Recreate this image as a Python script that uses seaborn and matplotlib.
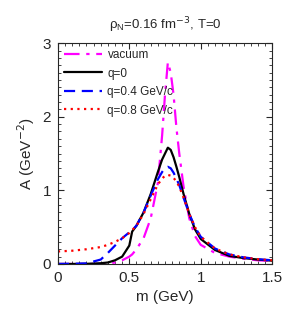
import numpy as np
import matplotlib
matplotlib.use("Agg")
import matplotlib.pyplot as plt
import pandas as pd
import seaborn as sns
from matplotlib.ticker import MultipleLocator, FuncFormatter

# --- data ---
mass = [0.0, 0.1, 0.2, 0.3, 0.35, 0.4, 0.45, 0.5, 0.52, 0.55, 0.6, 0.65, 0.7,
        0.73, 0.75, 0.77, 0.79, 0.81, 0.83, 0.85, 0.88, 0.92, 0.96, 1.0,
        1.1, 1.2, 1.3, 1.4, 1.5]
a_vacuum = [0.0, 0.0, 0.0, 0.0, 0.005, 0.02, 0.05, 0.1, 0.13, 0.2, 0.35, 0.62, 1.1,
            1.75, 2.3, 2.74, 2.6, 2.3, 1.85, 1.5, 1.05, 0.62, 0.38, 0.26,
            0.15, 0.1, 0.07, 0.05, 0.04]
a_q0 = [0.0, 0.0, 0.002, 0.01, 0.02, 0.05, 0.1, 0.25, 0.44, 0.52, 0.7, 0.95, 1.25,
        1.42, 1.5, 1.58, 1.55, 1.45, 1.32, 1.18, 0.95, 0.68, 0.47, 0.34,
        0.19, 0.11, 0.08, 0.06, 0.045]
a_q04 = [0.0, 0.002, 0.008, 0.06, 0.15, 0.25, 0.35, 0.43, 0.46, 0.52, 0.7, 0.93, 1.15,
         1.25, 1.3, 1.32, 1.3, 1.24, 1.16, 1.07, 0.9, 0.68, 0.5, 0.37,
         0.21, 0.13, 0.09, 0.065, 0.05]
a_q08 = [0.17, 0.18, 0.2, 0.23, 0.26, 0.3, 0.35, 0.42, 0.46, 0.52, 0.68, 0.88, 1.08,
         1.16, 1.2, 1.21, 1.2, 1.17, 1.12, 1.05, 0.9, 0.68, 0.5, 0.37,
         0.21, 0.13, 0.09, 0.065, 0.05]

labels = ["vacuum", "q=0", "q=0.4 GeV/c", "q=0.8 GeV/c"]
colors = ["#ff00ff", "black", "#0000ff", "#ff0000"]
dashes = [(0, (7, 3, 1.5, 3)), "-", (0, (5, 3)), (0, (1, 2))]

sns.set_style("ticks")
plt.rcParams["font.family"] = ["Liberation Sans", "DejaVu Sans"]

fig = plt.figure(figsize=(3.0, 3.15), dpi=100)
ax = fig.add_axes([0.193, 0.162, 0.714, 0.701])

for ys, lab, col, ls in zip([a_vacuum, a_q0, a_q04, a_q08], labels, colors, dashes):
    df = pd.DataFrame({"m": mass, "A": ys})
    sns.lineplot(data=df, x="m", y="A", ax=ax, color=col, lw=1.6,
                 linestyle=ls, label=lab, sort=False)

ax.set_xlim(0, 1.5)
ax.set_ylim(0, 3)
ax.xaxis.set_major_locator(MultipleLocator(0.5))
ax.xaxis.set_minor_locator(MultipleLocator(0.05))
ax.yaxis.set_major_locator(MultipleLocator(1))
ax.yaxis.set_minor_locator(MultipleLocator(0.1))
ax.xaxis.set_major_formatter(FuncFormatter(lambda v, p: f"{v:g}"))
ax.yaxis.set_major_formatter(FuncFormatter(lambda v, p: f"{v:g}"))
ax.tick_params(which="both", direction="in", top=True, right=True, labelsize=11)
ax.tick_params(which="major", length=4, pad=5)
ax.tick_params(which="minor", length=2)
for sp in ax.spines.values():
    sp.set_linewidth(0.8)

ax.set_xlabel("m (GeV)", fontsize=11)
ax.set_ylabel("A (GeV$^{-2}$)", fontsize=11)
ax.set_title(r"$\mathregular{\rho_N}$=0.16 fm$^{-3}$, T=0", fontsize=9.5, pad=10)

ax.legend(loc="upper left", frameon=False, fontsize=8.5, handlelength=3.2,
          handletextpad=0.5, labelspacing=0.55, borderaxespad=0.1)

fig.savefig("out.png", dpi=100)
